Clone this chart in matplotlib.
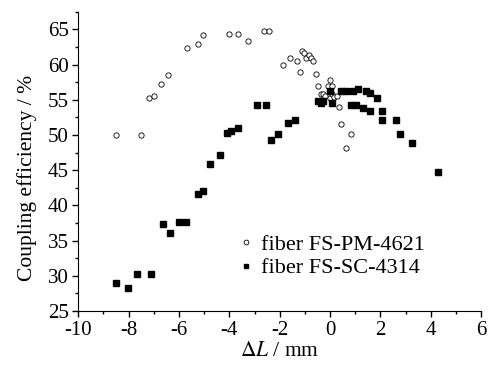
import matplotlib
matplotlib.use('Agg')
import matplotlib.pyplot as plt
from matplotlib.ticker import MultipleLocator

plt.rcParams['font.family'] = ['Liberation Serif', 'DejaVu Serif']
plt.rcParams['mathtext.fontset'] = 'stix'
plt.rcParams['axes.unicode_minus'] = False

# fiber FS-PM-4621 (open circles)
pm_x = [-8.5, -7.5, -7.21, -7.01, -6.73, -6.45, -5.70, -5.24, -5.05, -4.02,
        -3.64, -3.26, -2.62, -2.43, -1.87, -1.60, -1.31, -1.21, -1.12, -1.03,
        -0.94, -0.84, -0.75, -0.66, -0.56, -0.47, -0.38, -0.30, -0.19, -0.10,
        0.0, 0.08, 0.0, 0.08, 0.17, 0.27, 0.37, 0.45, 0.84, 0.65]
pm_y = [50.0, 50.0, 55.2, 55.6, 57.3, 58.5, 62.4, 63.0, 64.2, 64.4,
        64.4, 63.3, 64.8, 64.8, 60.0, 60.9, 60.5, 58.9, 62.0, 61.6,
        60.9, 61.3, 60.9, 60.5, 58.6, 57.0, 55.8, 55.8, 55.5, 57.0,
        57.8, 57.0, 55.2, 55.8, 55.4, 55.5, 54.0, 51.6, 50.1, 48.1]

# fiber FS-SC-4314 (filled squares)
sc_x = [-8.50, -8.04, -7.67, -7.10, -6.64, -6.35, -5.99, -5.71, -5.24, -5.05,
        -4.77, -4.39, -4.11, -3.93, -3.64, -2.89, -2.54, -2.34, -2.06, -1.69,
        -1.41, -0.47, -0.38, -0.29, 0.0, 0.08, 0.45, 0.65, 0.84, 1.02,
        0.93, 1.12, 1.30, 1.41, 1.59, 1.59, 1.86, 2.06, 2.06, 2.61,
        2.79, 3.27, 4.30]
sc_y = [29.0, 28.3, 30.2, 30.2, 37.3, 36.1, 37.7, 37.7, 41.6, 42.0,
        45.9, 47.1, 50.3, 50.6, 51.0, 54.3, 54.3, 49.3, 50.1, 51.7,
        52.2, 54.9, 54.6, 54.9, 56.2, 54.6, 56.2, 56.2, 54.3, 54.3,
        56.2, 56.6, 53.9, 56.3, 56.0, 53.4, 55.3, 53.4, 52.2, 52.2,
        50.1, 48.9, 44.7]

fig = plt.figure(figsize=(4.89, 3.71), dpi=100)
ax = fig.add_axes([0.160, 0.162, 0.824, 0.806])

ax.plot(pm_x, pm_y, 'o', mfc='white', mec='black', mew=0.6, ms=3.8,
        label='fiber FS-PM-4621')
ax.plot(sc_x, sc_y, 's', color='black', ms=3.8, label='fiber FS-SC-4314')

ax.set_xlim(-10, 6)
ax.set_ylim(25, 67.5)
ax.xaxis.set_major_locator(MultipleLocator(2))
ax.xaxis.set_minor_locator(MultipleLocator(1))
ax.yaxis.set_major_locator(MultipleLocator(5))
ax.yaxis.set_minor_locator(MultipleLocator(2.5))
ax.tick_params(which='major', direction='out', length=4, width=1,
               labelsize=15, pad=3)
ax.tick_params(which='minor', direction='out', length=2.5, width=1)
ax.spines['top'].set_visible(False)
ax.spines['right'].set_visible(False)

ax.set_xlabel(r'$\Delta L$ / mm', fontsize=15.5, labelpad=2)
ax.set_ylabel('Coupling efficiency / %', fontsize=15.5)
ax.yaxis.set_label_coords(-0.103, 0.445)

ax.legend(loc='upper left', bbox_to_anchor=(0.40, 0.255), frameon=False,
          fontsize=16, handlelength=0.6, handletextpad=0.35, borderpad=0,
          borderaxespad=0, labelspacing=0.12, markerscale=0.9)

fig.savefig('out.png', dpi=100)
